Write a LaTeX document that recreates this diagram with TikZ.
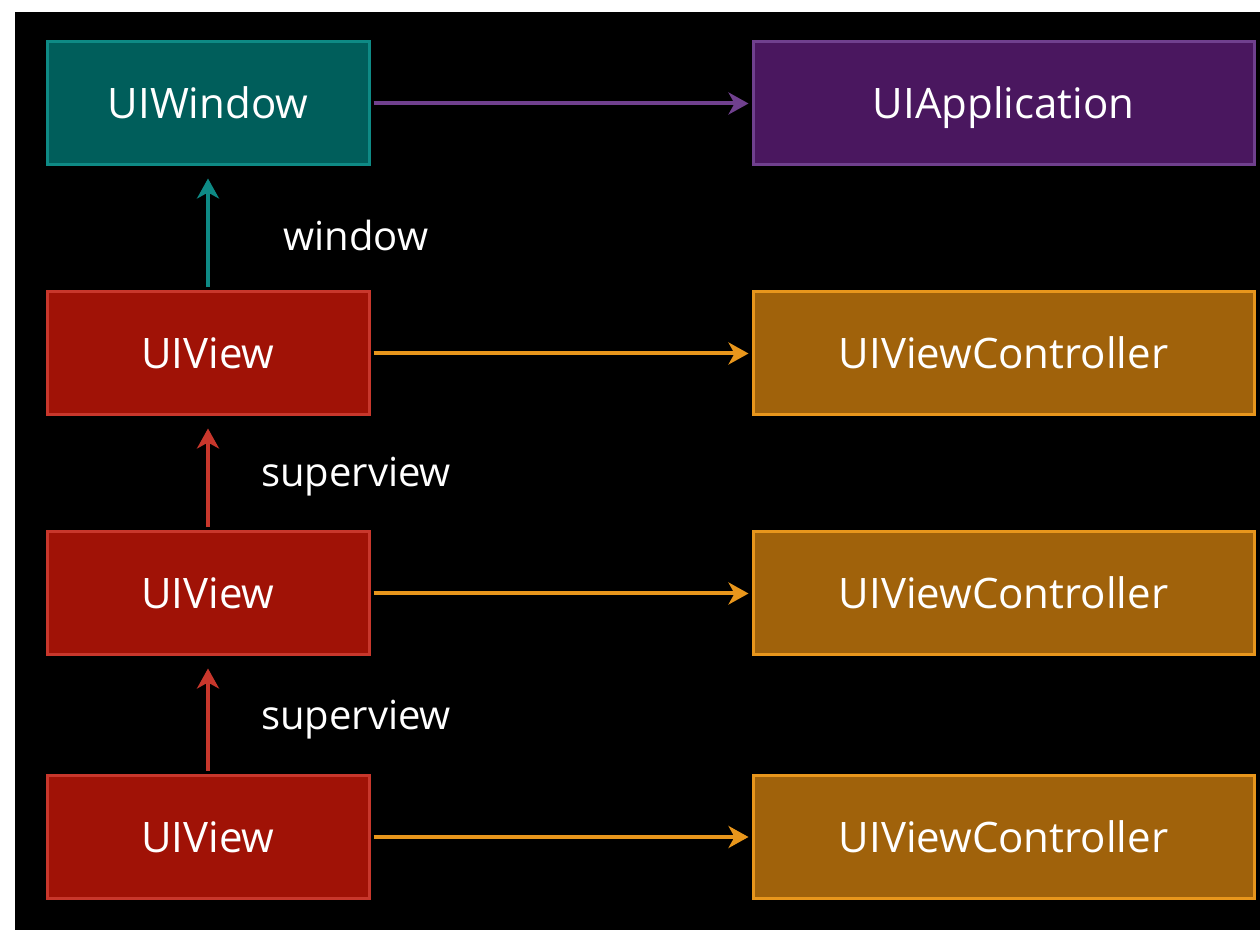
\documentclass[tikz,border=0pt]{standalone}
\usepackage{fontspec}
\setmainfont{Open Sans}
\usepackage{tikz}
\usetikzlibrary{arrows.meta}
\definecolor{tealfill}{HTML}{005E5B}
\definecolor{tealline}{HTML}{0E8A85}
\definecolor{purpfill}{HTML}{4A175F}
\definecolor{purpline}{HTML}{70408E}
\definecolor{redfill}{HTML}{A01206}
\definecolor{redline}{HTML}{C8372C}
\definecolor{orfill}{HTML}{A0620B}
\definecolor{orline}{HTML}{E8961C}

\begin{document}
\begin{tikzpicture}[x=0.5pt, y=-0.5pt]
	\tikzstyle{box} = [rectangle, line width=1.5pt, text=white, font=\fontsize{21}{24}\selectfont, minimum height=61.5pt, inner sep=0pt, text height=15pt, text depth=0pt]
	\tikzstyle{leftbox} = [box, minimum width=161pt]
	\tikzstyle{rightbox} = [box, minimum width=250.5pt]
	\tikzstyle{lbl} = [text=white, font=\fontsize{20}{24}\selectfont, inner sep=0pt]
	\tikzstyle{link} = [line width=2pt, -{Stealth[length=10pt, width=11pt, inset=3pt]}, shorten >=1.5pt, shorten <=1.5pt]
	\useasboundingbox (0,0) rectangle (1260,930);
	\fill[white] (0,0) rectangle (1260,930);
	\fill[black] (15,12) rectangle (1260,930);
	\node[leftbox, fill=tealfill, draw=tealline] (win) at (208, 103.5) {UIWindow};
	\node[rightbox, fill=purpfill, draw=purpline] (app) at (1003.5, 103.5) {UIApplication};
	\node[leftbox, fill=redfill, draw=redline] (v1) at (208, 353.5) {UIView};
	\node[rightbox, fill=orfill, draw=orline] (c1) at (1003.5, 353.5) {UIViewController};
	\node[leftbox, fill=redfill, draw=redline] (v2) at (208, 593.5) {UIView};
	\node[rightbox, fill=orfill, draw=orline] (c2) at (1003.5, 593.5) {UIViewController};
	\node[leftbox, fill=redfill, draw=redline] (v3) at (208, 837) {UIView};
	\node[rightbox, fill=orfill, draw=orline] (c3) at (1003.5, 837) {UIViewController};
	\node[lbl] (lwin) at (356, 236) {window};
	\node[lbl] (lsup1) at (356, 477) {superview};
	\node[lbl] (lsup2) at (356, 720) {superview};
	\draw [link, draw=purpline] (win)--(app);
	\draw [link, draw=orline] (v1)--(c1);
	\draw [link, draw=orline] (v2)--(c2);
	\draw [link, draw=orline] (v3)--(c3);
	\draw [link, draw=tealline, shorten >=6pt] (v1)--(win);
	\draw [link, draw=redline, shorten >=6pt] (v2)--(v1);
	\draw [link, draw=redline, shorten >=6pt] (v3)--(v2);
\end{tikzpicture}
\end{document}
